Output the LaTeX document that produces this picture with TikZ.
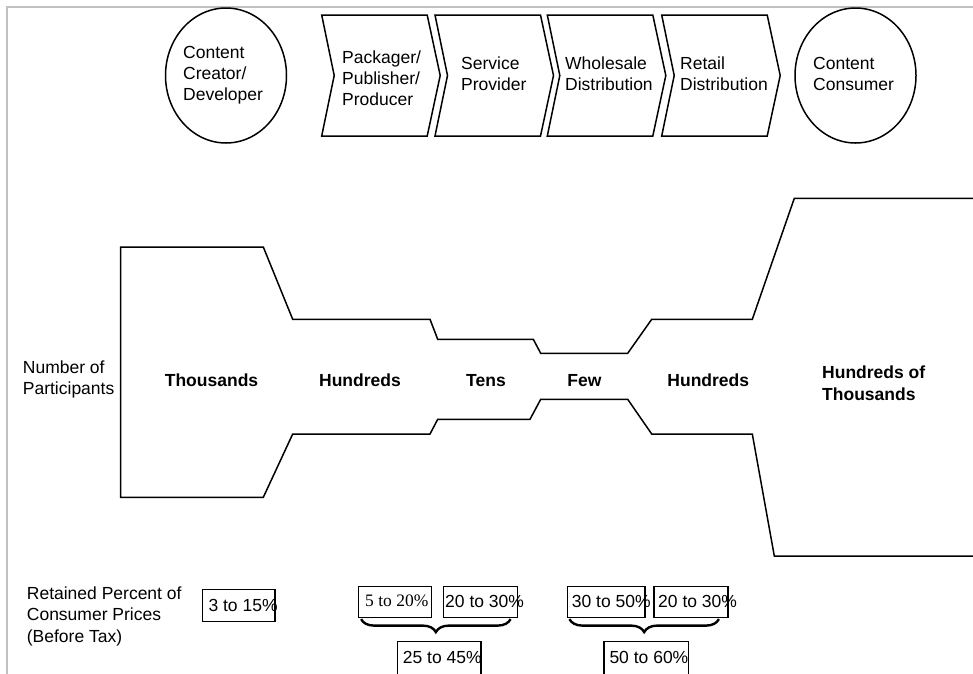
\documentclass[tikz,border=0pt]{standalone}
\usepackage{fontspec}
\setmainfont{Liberation Sans}
\newfontfamily\timesfont{Liberation Serif}
\usetikzlibrary{shapes.geometric,decorations.pathreplacing,calc}
\definecolor{framegray}{HTML}{C0C0C0}

\begin{document}
\begin{tikzpicture}[x=1pt,y=-1pt,
  outline/.style={draw=black,line width=1.5pt,line join=miter},
  txt/.style={inner sep=0pt,align=left,anchor=west,font=\fontsize{17.5}{21}\selectfont},
  lbl/.style={inner sep=0pt,align=left,anchor=base,font=\fontsize{17.5}{22}\selectfont\bfseries},
  pbox/.style={draw=black,line width=1.2pt,inner sep=0pt},
  framed/.style={draw=framegray,line width=2pt},
  brc/.style={decorate,decoration={brace,amplitude=13pt},line width=2.4pt},
  chev/.pic={\draw[outline] (0,15) -- (105.5,15) -- (118.5,75.5) -- (105.5,136) -- (0,136) -- (12.5,75.5) -- cycle;}
]
\useasboundingbox (0,0) rectangle (973,673);
\clip (0,0) rectangle (973,673);
\fill[white] (0,0) rectangle (973,673);

% page frame
\draw[framed] (7,674) -- (7,7) -- (974,7);

% value chain: end points and stages
\node[outline,ellipse,minimum width=121pt,minimum height=135pt,inner sep=0pt] (creator) at (226,75.5) {};
\node[txt] (creatorT) at (183,75) {Content\\Creator/\\Developer};

\pic at (321.7,0) {chev};
\node[txt] (packT) at (342,78) {Packager/\\Publisher/\\Producer};
\pic at (435,0) {chev};
\node[txt] (servT) at (461,74) {Service\\Provider};
\pic at (547.3,0) {chev};
\node[txt] (wholeT) at (565,74) {Wholesale\\Distribution};
\pic at (661.7,0) {chev};
\node[txt] (retailT) at (680,74) {Retail\\Distribution};

\node[outline,ellipse,minimum width=121pt,minimum height=135pt,inner sep=0pt] (consumer) at (855.5,75.5) {};
\node[txt] (consumerT) at (813,74) {Content\\Consumer};

% participant funnel
\draw[outline] (974,198.3) -- (794.3,198.3) -- (752.3,319.3) -- (651.7,319.3)
  -- (627.7,353.3) -- (540.7,353.3) -- (533.3,339.3) -- (437.7,339.3)
  -- (430,319.3) -- (292.7,319.3) -- (263.3,247) -- (120.7,247)
  -- (120.7,497.3) -- (263.3,497.3) -- (292.7,434) -- (430,434)
  -- (437.7,419.3) -- (530,419.3) -- (540.7,399.3) -- (627.7,399.3)
  -- (651.7,434) -- (752.3,434) -- (774.3,556) -- (974,556);

\node[txt] (numT) at (22.7,379) {Number of\\Participants};
\node[lbl] (thou) at (211.5,386) {Thousands};
\node[lbl] (hund1) at (360,386) {Hundreds};
\node[lbl] (tens) at (486,386) {Tens};
\node[lbl] (few) at (584.5,386) {Few};
\node[lbl] (hund2) at (708.3,386) {Hundreds};
\node[lbl,anchor=west] (hundthou) at (822,383) {Hundreds of\\Thousands};

% retained share of consumer price
\node[txt,font=\fontsize{17.5}{21.5}\selectfont] (retT) at (26.7,616) {Retained Percent of\\Consumer Prices\\(Before Tax)};

\node[pbox,minimum width=72.7pt,minimum height=32.4pt] (b0) at (238.7,605.5) {};
\node[txt] (b0T) at (208.3,605) {3 to 15\%};

\node[pbox,minimum width=73.4pt,minimum height=30.6pt] (p1) at (395,602) {};
\node[txt,font=\fontsize{17.5}{21}\timesfont] (p1T) at (365,601) {5 to 20\%};
\node[pbox,minimum width=74.4pt,minimum height=30.6pt] (p2) at (480.5,602) {};
\node[txt] (p2T) at (445,601) {20 to 30\%};
\node[pbox,minimum width=77.7pt,minimum height=30.6pt] (p3) at (606.2,602) {};
\node[txt] (p3T) at (571.7,601) {30 to 50\%};
\node[pbox,minimum width=74pt,minimum height=30.6pt] (p4) at (691,602) {};
\node[txt] (p4T) at (658,601) {20 to 30\%};

\node[pbox,minimum width=83.7pt,minimum height=34pt] (q1) at (439.2,658.7) {};
\node[txt] (q1T) at (402.7,657) {25 to 45\%};
\node[pbox,minimum width=84.3pt,minimum height=34pt] (q2) at (646.2,658.7) {};
\node[txt] (q2T) at (609.3,657) {50 to 60\%};

% braces joining each pair into its combined share
\draw[brc] ($(p2.south east)+(-7.7,1.2)$) -- ($(p1.south west)+(3.4,1.2)$);
\draw[brc] ($(p4.south east)+(-9.7,1.2)$) -- ($(p3.south west)+(2.7,1.2)$);
\end{tikzpicture}
\end{document}
